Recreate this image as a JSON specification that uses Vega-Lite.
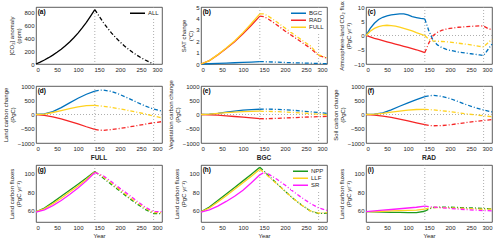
{
"$schema":"https://vega.github.io/schema/vega-lite/v6.json",
"padding":{"top":0,"left":1,"right":2,"bottom":0},
"bounds":"flush",
"columns":3,
"spacing":{"row":22,"column":39},
"resolve":{"scale":{"color":"independent"},"legend":{"color":"independent"}},
"config":{"font":"Liberation Sans","numberFormat":"d","view":{"stroke":"#333","strokeWidth":0.8},
"axis":{"domain":false,"grid":false,"ticks":false,"labelOverlap":false,"labelFontSize":6,"titleFontSize":6,"titleLineHeight":7,"titleFontWeight":"normal","labelColor":"#262626","titleColor":"#262626","labelPadding":2,"titlePadding":2},
"legend":{"orient":"top-right","title":null,"fillColor":"white","labelFontSize":6,"symbolType":"stroke","symbolStrokeWidth":1.5,"symbolSize":225,"clipHeight":6.5,"rowPadding":0,"offset":2,"padding":1,"labelOffset":2,"labelColor":"#262626"},
"title":{"fontSize":6.5,"fontWeight":"bold","offset":3,"color":"#262626"}},
"datasets":{
"a":[{"t":0,"ALL":0},{"t":10,"ALL":29.3},{"t":20,"ALL":61.7},{"t":30,"ALL":97.4},{"t":40,"ALL":136.9},{"t":50,"ALL":180.5},{"t":60,"ALL":228.7},{"t":70,"ALL":281.9},{"t":80,"ALL":340.7},{"t":90,"ALL":405.6},{"t":100,"ALL":477.4},{"t":110,"ALL":556.6},{"t":120,"ALL":644.1},{"t":130,"ALL":740.8},{"t":140,"ALL":840},{"t":150,"ALL":740.8},{"t":160,"ALL":644.1},{"t":170,"ALL":556.6},{"t":180,"ALL":477.4},{"t":190,"ALL":405.6},{"t":200,"ALL":340.7},{"t":210,"ALL":281.9},{"t":220,"ALL":228.7},{"t":230,"ALL":180.5},{"t":240,"ALL":136.9},{"t":250,"ALL":97.4},{"t":260,"ALL":61.7},{"t":270,"ALL":29.3},{"t":280,"ALL":0}],
"b":[{"t":0,"BGC":0,"RAD":0,"FULL":0},{"t":20,"BGC":0.02,"RAD":0.3,"FULL":0.3},{"t":40,"BGC":0.05,"RAD":0.8,"FULL":0.82},{"t":60,"BGC":0.08,"RAD":1.35,"FULL":1.4},{"t":80,"BGC":0.11,"RAD":1.95,"FULL":2.02},{"t":100,"BGC":0.14,"RAD":2.65,"FULL":2.75},{"t":120,"BGC":0.17,"RAD":3.4,"FULL":3.55},{"t":140,"BGC":0.2,"RAD":4.2,"FULL":4.4},{"t":150,"BGC":0.2,"RAD":4.15,"FULL":4.4},{"t":160,"BGC":0.19,"RAD":3.95,"FULL":4.2},{"t":180,"BGC":0.16,"RAD":3.45,"FULL":3.7},{"t":200,"BGC":0.13,"RAD":2.9,"FULL":3.15},{"t":220,"BGC":0.11,"RAD":2.4,"FULL":2.62},{"t":240,"BGC":0.09,"RAD":1.9,"FULL":2.1},{"t":260,"BGC":0.07,"RAD":1.4,"FULL":1.6},{"t":280,"BGC":0.05,"RAD":0.75,"FULL":0.8},{"t":300,"BGC":0.03,"RAD":0.5,"FULL":0.55}],
"c":[{"t":0,"BGC":0,"RAD":0,"FULL":0},{"t":10,"BGC":2.5,"RAD":-0.5,"FULL":1.5},{"t":20,"BGC":4.3,"RAD":-1.0,"FULL":2.5},{"t":30,"BGC":5.6,"RAD":-1.4,"FULL":3.1},{"t":40,"BGC":6.4,"RAD":-1.8,"FULL":3.5},{"t":50,"BGC":6.9,"RAD":-2.2,"FULL":3.6},{"t":60,"BGC":7.2,"RAD":-2.6,"FULL":3.5},{"t":70,"BGC":7.4,"RAD":-3.0,"FULL":3.3},{"t":80,"BGC":7.6,"RAD":-3.4,"FULL":2.9},{"t":90,"BGC":7.6,"RAD":-3.8,"FULL":2.5},{"t":100,"BGC":7.2,"RAD":-4.2,"FULL":2.1},{"t":110,"BGC":6.6,"RAD":-4.6,"FULL":1.6},{"t":120,"BGC":6.3,"RAD":-5.0,"FULL":1.0},{"t":130,"BGC":6.0,"RAD":-5.5,"FULL":0.5},{"t":140,"BGC":5.8,"RAD":-6.0,"FULL":0.0},{"t":150,"BGC":1.5,"RAD":-2.5,"FULL":-1.4},{"t":160,"BGC":-1.8,"RAD":0.0,"FULL":-1.9},{"t":170,"BGC":-3.3,"RAD":1.1,"FULL":-2.0},{"t":180,"BGC":-4.2,"RAD":1.8,"FULL":-2.1},{"t":190,"BGC":-4.8,"RAD":2.2,"FULL":-2.2},{"t":200,"BGC":-5.2,"RAD":2.5,"FULL":-2.3},{"t":210,"BGC":-5.5,"RAD":2.7,"FULL":-2.5},{"t":220,"BGC":-5.8,"RAD":2.9,"FULL":-2.7},{"t":230,"BGC":-6.0,"RAD":3.0,"FULL":-2.9},{"t":240,"BGC":-6.2,"RAD":3.1,"FULL":-3.1},{"t":250,"BGC":-6.4,"RAD":3.2,"FULL":-3.3},{"t":260,"BGC":-6.6,"RAD":3.3,"FULL":-3.6},{"t":270,"BGC":-6.8,"RAD":3.4,"FULL":-3.8},{"t":280,"BGC":-7.0,"RAD":3.3,"FULL":-4.0},{"t":290,"BGC":-5.0,"RAD":2.5,"FULL":-2.6},{"t":300,"BGC":-3.0,"RAD":2.0,"FULL":-1.3}],
"d":[{"t":0,"BGC":0,"RAD":0,"FULL":0},{"t":20,"BGC":20,"RAD":-30,"FULL":15},{"t":40,"BGC":100,"RAD":-80,"FULL":70},{"t":60,"BGC":240,"RAD":-150,"FULL":140},{"t":80,"BGC":410,"RAD":-240,"FULL":210},{"t":100,"BGC":570,"RAD":-330,"FULL":270},{"t":120,"BGC":710,"RAD":-430,"FULL":310},{"t":140,"BGC":820,"RAD":-520,"FULL":320},{"t":150,"BGC":850,"RAD":-550,"FULL":305},{"t":160,"BGC":855,"RAD":-555,"FULL":290},{"t":180,"BGC":810,"RAD":-530,"FULL":250},{"t":200,"BGC":700,"RAD":-490,"FULL":195},{"t":220,"BGC":570,"RAD":-440,"FULL":140},{"t":240,"BGC":430,"RAD":-390,"FULL":80},{"t":260,"BGC":300,"RAD":-340,"FULL":20},{"t":280,"BGC":190,"RAD":-290,"FULL":-50},{"t":300,"BGC":120,"RAD":-250,"FULL":-120}],
"e":[{"t":0,"BGC":0,"RAD":0,"FULL":0},{"t":20,"BGC":10,"RAD":-10,"FULL":15},{"t":40,"BGC":40,"RAD":-25,"FULL":40},{"t":60,"BGC":80,"RAD":-45,"FULL":65},{"t":80,"BGC":120,"RAD":-70,"FULL":85},{"t":100,"BGC":150,"RAD":-95,"FULL":100},{"t":120,"BGC":170,"RAD":-120,"FULL":110},{"t":140,"BGC":185,"RAD":-145,"FULL":115},{"t":150,"BGC":188,"RAD":-150,"FULL":112},{"t":160,"BGC":188,"RAD":-148,"FULL":110},{"t":180,"BGC":182,"RAD":-135,"FULL":102},{"t":200,"BGC":168,"RAD":-122,"FULL":90},{"t":220,"BGC":148,"RAD":-110,"FULL":72},{"t":240,"BGC":122,"RAD":-97,"FULL":52},{"t":260,"BGC":96,"RAD":-86,"FULL":32},{"t":280,"BGC":70,"RAD":-76,"FULL":12},{"t":300,"BGC":40,"RAD":-65,"FULL":-10}],
"f":[{"t":0,"BGC":0,"RAD":0,"FULL":0},{"t":20,"BGC":10,"RAD":-20,"FULL":10},{"t":40,"BGC":60,"RAD":-55,"FULL":40},{"t":60,"BGC":160,"RAD":-100,"FULL":80},{"t":80,"BGC":290,"RAD":-160,"FULL":120},{"t":100,"BGC":410,"RAD":-220,"FULL":150},{"t":120,"BGC":520,"RAD":-290,"FULL":175},{"t":140,"BGC":625,"RAD":-355,"FULL":180},{"t":150,"BGC":660,"RAD":-385,"FULL":172},{"t":160,"BGC":670,"RAD":-395,"FULL":162},{"t":180,"BGC":640,"RAD":-390,"FULL":135},{"t":200,"BGC":560,"RAD":-360,"FULL":100},{"t":220,"BGC":450,"RAD":-320,"FULL":60},{"t":240,"BGC":340,"RAD":-280,"FULL":20},{"t":260,"BGC":240,"RAD":-245,"FULL":-15},{"t":280,"BGC":160,"RAD":-210,"FULL":-45},{"t":300,"BGC":90,"RAD":-180,"FULL":-80}],
"g":[{"t":0,"NPP":59,"LLF":59,"SR":58.5},{"t":20,"NPP":63,"LLF":62,"SR":61},{"t":40,"NPP":69,"LLF":67.5,"SR":65.5},{"t":60,"NPP":75.5,"LLF":73.5,"SR":71},{"t":80,"NPP":82,"LLF":80,"SR":77.5},{"t":100,"NPP":88.5,"LLF":86.5,"SR":84.5},{"t":120,"NPP":95,"LLF":93.5,"SR":92},{"t":140,"NPP":102,"LLF":101.5,"SR":101},{"t":160,"NPP":95,"LLF":96.5,"SR":97.5},{"t":180,"NPP":88,"LLF":89.5,"SR":91},{"t":200,"NPP":81,"LLF":82.5,"SR":84},{"t":220,"NPP":74,"LLF":75.5,"SR":77.5},{"t":240,"NPP":67.5,"LLF":69,"SR":70.5},{"t":260,"NPP":61.5,"LLF":63,"SR":64},{"t":280,"NPP":57,"LLF":58,"SR":59},{"t":300,"NPP":57,"LLF":58,"SR":59}],
"h":[{"t":0,"NPP":59,"LLF":59,"SR":58.5},{"t":20,"NPP":64,"LLF":63,"SR":61},{"t":40,"NPP":71,"LLF":69.5,"SR":65},{"t":60,"NPP":78,"LLF":76,"SR":70},{"t":80,"NPP":85,"LLF":83,"SR":75.5},{"t":100,"NPP":92,"LLF":90,"SR":82},{"t":120,"NPP":99,"LLF":97,"SR":90},{"t":140,"NPP":106.5,"LLF":104.5,"SR":98.5},{"t":150,"NPP":102.5,"LLF":101,"SR":101},{"t":160,"NPP":98,"LLF":97,"SR":99.5},{"t":180,"NPP":89.5,"LLF":89,"SR":94},{"t":200,"NPP":81,"LLF":81,"SR":87.5},{"t":220,"NPP":73,"LLF":73,"SR":80.5},{"t":240,"NPP":66,"LLF":66,"SR":74},{"t":260,"NPP":60,"LLF":60,"SR":68},{"t":280,"NPP":57,"LLF":57.5,"SR":63},{"t":300,"NPP":57.5,"LLF":58,"SR":60.5}],
"i":[{"t":0,"NPP":59,"LLF":59,"SR":59},{"t":20,"NPP":58.8,"LLF":59.2,"SR":59.8},{"t":40,"NPP":58.6,"LLF":59.5,"SR":60.6},{"t":60,"NPP":58.4,"LLF":59.8,"SR":61.4},{"t":80,"NPP":58.2,"LLF":60.1,"SR":62.2},{"t":100,"NPP":58.1,"LLF":60.4,"SR":63},{"t":120,"NPP":58.1,"LLF":60.7,"SR":63.8},{"t":140,"NPP":59.5,"LLF":61.8,"SR":65},{"t":150,"NPP":62,"LLF":63,"SR":64.5},{"t":160,"NPP":63.5,"LLF":63.5,"SR":64},{"t":180,"NPP":64,"LLF":63.5,"SR":63.2},{"t":200,"NPP":63.8,"LLF":63.2,"SR":62.5},{"t":220,"NPP":63.5,"LLF":62.8,"SR":61.8},{"t":240,"NPP":63.2,"LLF":62.4,"SR":61.2},{"t":260,"NPP":63,"LLF":62,"SR":60.7},{"t":280,"NPP":62.5,"LLF":61.6,"SR":60.2},{"t":300,"NPP":62,"LLF":61.8,"SR":60}]
},
"concat":[
{"width":126,"height":57,"layer":[
{"data":{"values":[{"t":140},{"t":280}]},"mark":{"type":"rule","color":"#999","strokeDash":[1,2],"strokeWidth":0.8},"encoding":{"x":{"field":"t","type":"quantitative","scale":{"domain":[0,300],"nice":false},"axis":{"values":[0,50,100,150,200,250,300],"tickCount":10},"title":null}}},
{"data":{"name":"a"},"transform":[{"fold":["ALL"],"as":["s","v"]},{"filter":"datum.t<=140"}],"mark":{"type":"line","strokeWidth":1.3},"encoding":{"x":{"field":"t","type":"quantitative","scale":{"domain":[0,300],"nice":false},"axis":{"values":[0,50,100,150,200,250,300],"tickCount":10},"title":null},"y":{"field":"v","type":"quantitative","scale":{"domain":[0,880],"nice":false},"axis":{"values":[0,200,400,600,800],"tickCount":10},"title":["[CO₂] anomaly","(ppm)"]},"color":{"field":"s","type":"nominal","scale":{"domain":["ALL"],"range":["#000000"]}}}},
{"data":{"name":"a"},"transform":[{"fold":["ALL"],"as":["s","v"]},{"filter":"datum.t>=140"}],"mark":{"type":"line","strokeWidth":1.3,"strokeDash":[4,2,1,2]},"encoding":{"x":{"field":"t","type":"quantitative","scale":{"domain":[0,300],"nice":false},"axis":{"values":[0,50,100,150,200,250,300],"tickCount":10},"title":null},"y":{"field":"v","type":"quantitative","scale":{"domain":[0,880],"nice":false},"axis":{"values":[0,200,400,600,800],"tickCount":10},"title":["[CO₂] anomaly","(ppm)"]},"color":{"field":"s","type":"nominal","scale":{"domain":["ALL"],"range":["#000000"]}}}},
{"data":{"values":[{}]},"mark":{"type":"text","text":"(a)","align":"left","baseline":"top","fontWeight":"bold","fontSize":6.5,"color":"#000"},"encoding":{"x":{"datum":4},"y":{"datum":855}}}
]},
{"width":126,"height":57,"layer":[
{"data":{"values":[{"t":140},{"t":280}]},"mark":{"type":"rule","color":"#999","strokeDash":[1,2],"strokeWidth":0.8},"encoding":{"x":{"field":"t","type":"quantitative","scale":{"domain":[0,300],"nice":false},"axis":{"values":[0,50,100,150,200,250,300],"tickCount":10},"title":null}}},
{"data":{"name":"b"},"transform":[{"fold":["BGC","RAD","FULL"],"as":["s","v"]},{"filter":"datum.t<=140"}],"mark":{"type":"line","strokeWidth":1.3},"encoding":{"x":{"field":"t","type":"quantitative","scale":{"domain":[0,300],"nice":false},"axis":{"values":[0,50,100,150,200,250,300],"tickCount":10},"title":null},"y":{"field":"v","type":"quantitative","scale":{"domain":[0,5],"nice":false},"axis":{"values":[0,1,2,3,4,5],"tickCount":10},"title":["SAT change","(°C)"]},"color":{"field":"s","type":"nominal","scale":{"domain":["BGC","RAD","FULL"],"range":["#0072BD","#F52525","#FFD21F"]}}}},
{"data":{"name":"b"},"transform":[{"fold":["BGC","RAD","FULL"],"as":["s","v"]},{"filter":"datum.t>=140"}],"mark":{"type":"line","strokeWidth":1.3,"strokeDash":[4,2,1,2]},"encoding":{"x":{"field":"t","type":"quantitative","scale":{"domain":[0,300],"nice":false},"axis":{"values":[0,50,100,150,200,250,300],"tickCount":10},"title":null},"y":{"field":"v","type":"quantitative","scale":{"domain":[0,5],"nice":false},"axis":{"values":[0,1,2,3,4,5],"tickCount":10},"title":["SAT change","(°C)"]},"color":{"field":"s","type":"nominal","scale":{"domain":["BGC","RAD","FULL"],"range":["#0072BD","#F52525","#FFD21F"]}}}},
{"data":{"values":[{}]},"mark":{"type":"text","text":"(b)","align":"left","baseline":"top","fontWeight":"bold","fontSize":6.5,"color":"#000"},"encoding":{"x":{"datum":4},"y":{"datum":4.85}}}
]},
{"width":126,"height":57,"layer":[
{"data":{"values":[{"t":140},{"t":280}]},"mark":{"type":"rule","color":"#999","strokeDash":[1,2],"strokeWidth":0.8},"encoding":{"x":{"field":"t","type":"quantitative","scale":{"domain":[0,300],"nice":false},"axis":{"values":[0,50,100,150,200,250,300],"tickCount":10},"title":null}}},
{"data":{"values":[{"v":0}]},"mark":{"type":"rule","color":"#999","strokeDash":[1,2],"strokeWidth":0.8},"encoding":{"y":{"field":"v","type":"quantitative","scale":{"domain":[-10,10],"nice":false},"axis":{"values":[-10,-5,0,5,10],"tickCount":10},"title":["Atmosphere-land CO₂ flux","(PgC yr⁻¹)"]}}},
{"data":{"name":"c"},"transform":[{"fold":["BGC","RAD","FULL"],"as":["s","v"]},{"filter":"datum.t<=140"}],"mark":{"type":"line","strokeWidth":1.3},"encoding":{"x":{"field":"t","type":"quantitative","scale":{"domain":[0,300],"nice":false},"axis":{"values":[0,50,100,150,200,250,300],"tickCount":10},"title":null},"y":{"field":"v","type":"quantitative","scale":{"domain":[-10,10],"nice":false},"axis":{"values":[-10,-5,0,5,10],"tickCount":10},"title":["Atmosphere-land CO₂ flux","(PgC yr⁻¹)"]},"color":{"field":"s","type":"nominal","scale":{"domain":["BGC","RAD","FULL"],"range":["#0072BD","#F52525","#FFD21F"]},"legend":null}}},
{"data":{"name":"c"},"transform":[{"fold":["BGC","RAD","FULL"],"as":["s","v"]},{"filter":"datum.t>=140"}],"mark":{"type":"line","strokeWidth":1.3,"strokeDash":[4,2,1,2]},"encoding":{"x":{"field":"t","type":"quantitative","scale":{"domain":[0,300],"nice":false},"axis":{"values":[0,50,100,150,200,250,300],"tickCount":10},"title":null},"y":{"field":"v","type":"quantitative","scale":{"domain":[-10,10],"nice":false},"axis":{"values":[-10,-5,0,5,10],"tickCount":10},"title":["Atmosphere-land CO₂ flux","(PgC yr⁻¹)"]},"color":{"field":"s","type":"nominal","scale":{"domain":["BGC","RAD","FULL"],"range":["#0072BD","#F52525","#FFD21F"]},"legend":null}}},
{"data":{"values":[{}]},"mark":{"type":"text","text":"(c)","align":"left","baseline":"top","fontWeight":"bold","fontSize":6.5,"color":"#000"},"encoding":{"x":{"datum":4},"y":{"datum":9.4}}}
]},
{"width":126,"height":57,"layer":[
{"data":{"values":[{"t":140},{"t":280}]},"mark":{"type":"rule","color":"#999","strokeDash":[1,2],"strokeWidth":0.8},"encoding":{"x":{"field":"t","type":"quantitative","scale":{"domain":[0,300],"nice":false},"axis":{"values":[0,50,100,150,200,250,300],"tickCount":10},"title":null}}},
{"data":{"values":[{"v":0}]},"mark":{"type":"rule","color":"#999","strokeDash":[1,2],"strokeWidth":0.8},"encoding":{"y":{"field":"v","type":"quantitative","scale":{"domain":[-1000,1000],"nice":false},"axis":{"values":[-1000,-500,0,500,1000],"tickCount":10},"title":["Land carbon change","(PgC)"]}}},
{"data":{"name":"d"},"transform":[{"fold":["BGC","RAD","FULL"],"as":["s","v"]},{"filter":"datum.t<=140"}],"mark":{"type":"line","strokeWidth":1.3},"encoding":{"x":{"field":"t","type":"quantitative","scale":{"domain":[0,300],"nice":false},"axis":{"values":[0,50,100,150,200,250,300],"tickCount":10},"title":null},"y":{"field":"v","type":"quantitative","scale":{"domain":[-1000,1000],"nice":false},"axis":{"values":[-1000,-500,0,500,1000],"tickCount":10},"title":["Land carbon change","(PgC)"]},"color":{"field":"s","type":"nominal","scale":{"domain":["BGC","RAD","FULL"],"range":["#0072BD","#F52525","#FFD21F"]},"legend":null}}},
{"data":{"name":"d"},"transform":[{"fold":["BGC","RAD","FULL"],"as":["s","v"]},{"filter":"datum.t>=140"}],"mark":{"type":"line","strokeWidth":1.3,"strokeDash":[4,2,1,2]},"encoding":{"x":{"field":"t","type":"quantitative","scale":{"domain":[0,300],"nice":false},"axis":{"values":[0,50,100,150,200,250,300],"tickCount":10},"title":null},"y":{"field":"v","type":"quantitative","scale":{"domain":[-1000,1000],"nice":false},"axis":{"values":[-1000,-500,0,500,1000],"tickCount":10},"title":["Land carbon change","(PgC)"]},"color":{"field":"s","type":"nominal","scale":{"domain":["BGC","RAD","FULL"],"range":["#0072BD","#F52525","#FFD21F"]},"legend":null}}},
{"data":{"values":[{}]},"mark":{"type":"text","text":"(d)","align":"left","baseline":"top","fontWeight":"bold","fontSize":6.5,"color":"#000"},"encoding":{"x":{"datum":4},"y":{"datum":940}}}
]},
{"width":126,"height":57,"layer":[
{"data":{"values":[{"t":140},{"t":280}]},"mark":{"type":"rule","color":"#999","strokeDash":[1,2],"strokeWidth":0.8},"encoding":{"x":{"field":"t","type":"quantitative","scale":{"domain":[0,300],"nice":false},"axis":{"values":[0,50,100,150,200,250,300],"tickCount":10},"title":null}}},
{"data":{"values":[{"v":0}]},"mark":{"type":"rule","color":"#999","strokeDash":[1,2],"strokeWidth":0.8},"encoding":{"y":{"field":"v","type":"quantitative","scale":{"domain":[-1000,1000],"nice":false},"axis":{"values":[-1000,-500,0,500,1000],"tickCount":10},"title":["Vegetation carbon change","(PgC)"]}}},
{"data":{"name":"e"},"transform":[{"fold":["BGC","RAD","FULL"],"as":["s","v"]},{"filter":"datum.t<=140"}],"mark":{"type":"line","strokeWidth":1.3},"encoding":{"x":{"field":"t","type":"quantitative","scale":{"domain":[0,300],"nice":false},"axis":{"values":[0,50,100,150,200,250,300],"tickCount":10},"title":null},"y":{"field":"v","type":"quantitative","scale":{"domain":[-1000,1000],"nice":false},"axis":{"values":[-1000,-500,0,500,1000],"tickCount":10},"title":["Vegetation carbon change","(PgC)"]},"color":{"field":"s","type":"nominal","scale":{"domain":["BGC","RAD","FULL"],"range":["#0072BD","#F52525","#FFD21F"]},"legend":null}}},
{"data":{"name":"e"},"transform":[{"fold":["BGC","RAD","FULL"],"as":["s","v"]},{"filter":"datum.t>=140"}],"mark":{"type":"line","strokeWidth":1.3,"strokeDash":[4,2,1,2]},"encoding":{"x":{"field":"t","type":"quantitative","scale":{"domain":[0,300],"nice":false},"axis":{"values":[0,50,100,150,200,250,300],"tickCount":10},"title":null},"y":{"field":"v","type":"quantitative","scale":{"domain":[-1000,1000],"nice":false},"axis":{"values":[-1000,-500,0,500,1000],"tickCount":10},"title":["Vegetation carbon change","(PgC)"]},"color":{"field":"s","type":"nominal","scale":{"domain":["BGC","RAD","FULL"],"range":["#0072BD","#F52525","#FFD21F"]},"legend":null}}},
{"data":{"values":[{}]},"mark":{"type":"text","text":"(e)","align":"left","baseline":"top","fontWeight":"bold","fontSize":6.5,"color":"#000"},"encoding":{"x":{"datum":4},"y":{"datum":940}}}
]},
{"width":126,"height":57,"layer":[
{"data":{"values":[{"t":140},{"t":280}]},"mark":{"type":"rule","color":"#999","strokeDash":[1,2],"strokeWidth":0.8},"encoding":{"x":{"field":"t","type":"quantitative","scale":{"domain":[0,300],"nice":false},"axis":{"values":[0,50,100,150,200,250,300],"tickCount":10},"title":null}}},
{"data":{"values":[{"v":0}]},"mark":{"type":"rule","color":"#999","strokeDash":[1,2],"strokeWidth":0.8},"encoding":{"y":{"field":"v","type":"quantitative","scale":{"domain":[-1000,1000],"nice":false},"axis":{"values":[-1000,-500,0,500,1000],"tickCount":10},"title":["Soil carbon change","(PgC)"]}}},
{"data":{"name":"f"},"transform":[{"fold":["BGC","RAD","FULL"],"as":["s","v"]},{"filter":"datum.t<=140"}],"mark":{"type":"line","strokeWidth":1.3},"encoding":{"x":{"field":"t","type":"quantitative","scale":{"domain":[0,300],"nice":false},"axis":{"values":[0,50,100,150,200,250,300],"tickCount":10},"title":null},"y":{"field":"v","type":"quantitative","scale":{"domain":[-1000,1000],"nice":false},"axis":{"values":[-1000,-500,0,500,1000],"tickCount":10},"title":["Soil carbon change","(PgC)"]},"color":{"field":"s","type":"nominal","scale":{"domain":["BGC","RAD","FULL"],"range":["#0072BD","#F52525","#FFD21F"]},"legend":null}}},
{"data":{"name":"f"},"transform":[{"fold":["BGC","RAD","FULL"],"as":["s","v"]},{"filter":"datum.t>=140"}],"mark":{"type":"line","strokeWidth":1.3,"strokeDash":[4,2,1,2]},"encoding":{"x":{"field":"t","type":"quantitative","scale":{"domain":[0,300],"nice":false},"axis":{"values":[0,50,100,150,200,250,300],"tickCount":10},"title":null},"y":{"field":"v","type":"quantitative","scale":{"domain":[-1000,1000],"nice":false},"axis":{"values":[-1000,-500,0,500,1000],"tickCount":10},"title":["Soil carbon change","(PgC)"]},"color":{"field":"s","type":"nominal","scale":{"domain":["BGC","RAD","FULL"],"range":["#0072BD","#F52525","#FFD21F"]},"legend":null}}},
{"data":{"values":[{}]},"mark":{"type":"text","text":"(f)","align":"left","baseline":"top","fontWeight":"bold","fontSize":6.5,"color":"#000"},"encoding":{"x":{"datum":4},"y":{"datum":940}}}
]},
{"width":126,"height":57,"title":"FULL","layer":[
{"data":{"values":[{"t":140},{"t":280}]},"mark":{"type":"rule","color":"#999","strokeDash":[1,2],"strokeWidth":0.8},"encoding":{"x":{"field":"t","type":"quantitative","scale":{"domain":[0,300],"nice":false},"axis":{"values":[0,50,100,150,200,250,300],"tickCount":10},"title":"Year"}}},
{"data":{"name":"g"},"transform":[{"fold":["NPP","LLF","SR"],"as":["s","v"]},{"filter":"datum.t<=140"}],"mark":{"type":"line","strokeWidth":1.3},"encoding":{"x":{"field":"t","type":"quantitative","scale":{"domain":[0,300],"nice":false},"axis":{"values":[0,50,100,150,200,250,300],"tickCount":10},"title":"Year"},"y":{"field":"v","type":"quantitative","scale":{"domain":[48,109],"nice":false},"axis":{"values":[60,80,100],"tickCount":10},"title":["Land carbon fluxes","(PgC yr⁻¹)"]},"color":{"field":"s","type":"nominal","scale":{"domain":["NPP","LLF","SR"],"range":["#1E9A1E","#FFD21F","#FF1CFF"]},"legend":null}}},
{"data":{"name":"g"},"transform":[{"fold":["NPP","LLF","SR"],"as":["s","v"]},{"filter":"datum.t>=140"}],"mark":{"type":"line","strokeWidth":1.3,"strokeDash":[4,2,1,2]},"encoding":{"x":{"field":"t","type":"quantitative","scale":{"domain":[0,300],"nice":false},"axis":{"values":[0,50,100,150,200,250,300],"tickCount":10},"title":"Year"},"y":{"field":"v","type":"quantitative","scale":{"domain":[48,109],"nice":false},"axis":{"values":[60,80,100],"tickCount":10},"title":["Land carbon fluxes","(PgC yr⁻¹)"]},"color":{"field":"s","type":"nominal","scale":{"domain":["NPP","LLF","SR"],"range":["#1E9A1E","#FFD21F","#FF1CFF"]},"legend":null}}},
{"data":{"values":[{}]},"mark":{"type":"text","text":"(g)","align":"left","baseline":"top","fontWeight":"bold","fontSize":6.5,"color":"#000"},"encoding":{"x":{"datum":4},"y":{"datum":107}}}
]},
{"width":126,"height":57,"title":"BGC","layer":[
{"data":{"values":[{"t":140},{"t":280}]},"mark":{"type":"rule","color":"#999","strokeDash":[1,2],"strokeWidth":0.8},"encoding":{"x":{"field":"t","type":"quantitative","scale":{"domain":[0,300],"nice":false},"axis":{"values":[0,50,100,150,200,250,300],"tickCount":10},"title":"Year"}}},
{"data":{"name":"h"},"transform":[{"fold":["NPP","LLF","SR"],"as":["s","v"]},{"filter":"datum.t<=140"}],"mark":{"type":"line","strokeWidth":1.3},"encoding":{"x":{"field":"t","type":"quantitative","scale":{"domain":[0,300],"nice":false},"axis":{"values":[0,50,100,150,200,250,300],"tickCount":10},"title":"Year"},"y":{"field":"v","type":"quantitative","scale":{"domain":[48,109],"nice":false},"axis":{"values":[60,80,100],"tickCount":10},"title":["Land carbon fluxes","(PgC yr⁻¹)"]},"color":{"field":"s","type":"nominal","scale":{"domain":["NPP","LLF","SR"],"range":["#1E9A1E","#FFD21F","#FF1CFF"]}}}},
{"data":{"name":"h"},"transform":[{"fold":["NPP","LLF","SR"],"as":["s","v"]},{"filter":"datum.t>=140"}],"mark":{"type":"line","strokeWidth":1.3,"strokeDash":[4,2,1,2]},"encoding":{"x":{"field":"t","type":"quantitative","scale":{"domain":[0,300],"nice":false},"axis":{"values":[0,50,100,150,200,250,300],"tickCount":10},"title":"Year"},"y":{"field":"v","type":"quantitative","scale":{"domain":[48,109],"nice":false},"axis":{"values":[60,80,100],"tickCount":10},"title":["Land carbon fluxes","(PgC yr⁻¹)"]},"color":{"field":"s","type":"nominal","scale":{"domain":["NPP","LLF","SR"],"range":["#1E9A1E","#FFD21F","#FF1CFF"]}}}},
{"data":{"values":[{}]},"mark":{"type":"text","text":"(h)","align":"left","baseline":"top","fontWeight":"bold","fontSize":6.5,"color":"#000"},"encoding":{"x":{"datum":4},"y":{"datum":107}}}
]},
{"width":126,"height":57,"title":"RAD","layer":[
{"data":{"values":[{"t":140},{"t":280}]},"mark":{"type":"rule","color":"#999","strokeDash":[1,2],"strokeWidth":0.8},"encoding":{"x":{"field":"t","type":"quantitative","scale":{"domain":[0,300],"nice":false},"axis":{"values":[0,50,100,150,200,250,300],"tickCount":10},"title":"Year"}}},
{"data":{"name":"i"},"transform":[{"fold":["NPP","LLF","SR"],"as":["s","v"]},{"filter":"datum.t<=140"}],"mark":{"type":"line","strokeWidth":1.3},"encoding":{"x":{"field":"t","type":"quantitative","scale":{"domain":[0,300],"nice":false},"axis":{"values":[0,50,100,150,200,250,300],"tickCount":10},"title":"Year"},"y":{"field":"v","type":"quantitative","scale":{"domain":[48,109],"nice":false},"axis":{"values":[60,80,100],"tickCount":10},"title":["Land carbon fluxes","(PgC yr⁻¹)"]},"color":{"field":"s","type":"nominal","scale":{"domain":["NPP","LLF","SR"],"range":["#1E9A1E","#FFD21F","#FF1CFF"]},"legend":null}}},
{"data":{"name":"i"},"transform":[{"fold":["NPP","LLF","SR"],"as":["s","v"]},{"filter":"datum.t>=140"}],"mark":{"type":"line","strokeWidth":1.3,"strokeDash":[4,2,1,2]},"encoding":{"x":{"field":"t","type":"quantitative","scale":{"domain":[0,300],"nice":false},"axis":{"values":[0,50,100,150,200,250,300],"tickCount":10},"title":"Year"},"y":{"field":"v","type":"quantitative","scale":{"domain":[48,109],"nice":false},"axis":{"values":[60,80,100],"tickCount":10},"title":["Land carbon fluxes","(PgC yr⁻¹)"]},"color":{"field":"s","type":"nominal","scale":{"domain":["NPP","LLF","SR"],"range":["#1E9A1E","#FFD21F","#FF1CFF"]},"legend":null}}},
{"data":{"values":[{}]},"mark":{"type":"text","text":"(i)","align":"left","baseline":"top","fontWeight":"bold","fontSize":6.5,"color":"#000"},"encoding":{"x":{"datum":4},"y":{"datum":107}}}
]}
]
}
